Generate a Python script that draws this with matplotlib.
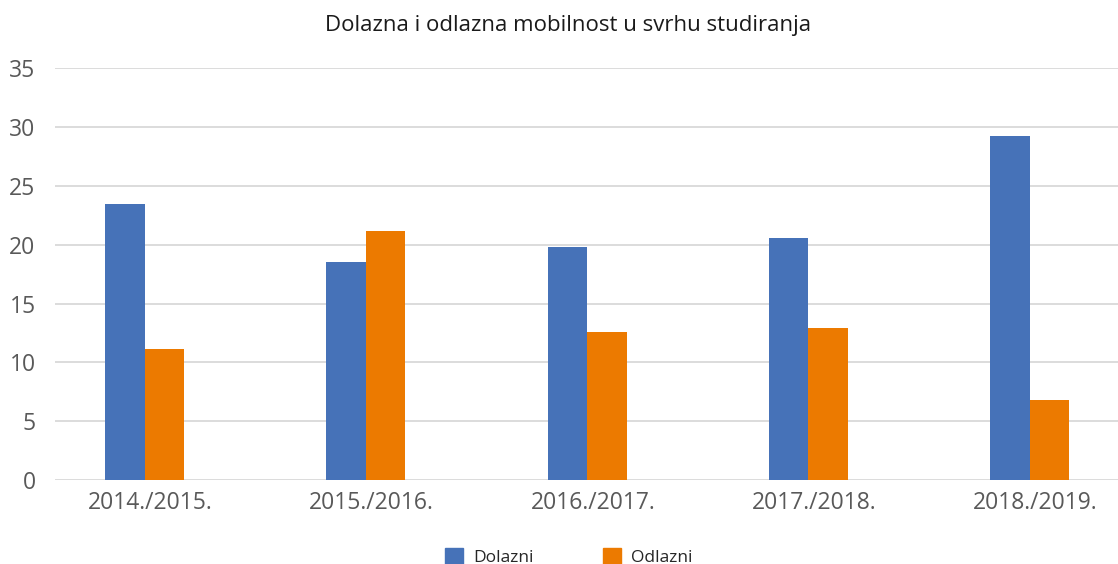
import matplotlib
matplotlib.use("Agg")
import matplotlib.pyplot as plt
from matplotlib.patches import Patch
import numpy as np

categories = ["2014./2015.", "2015./2016.", "2016./2017.", "2017./2018.", "2018./2019."]
dolazni = [23.5, 18.55, 19.8, 20.6, 29.25]
odlazni = [11.1, 21.15, 12.6, 12.9, 6.8]
yticks = [0, 5, 10, 15, 20, 25, 30, 35]

plt.rcParams['font.family'] = ['Open Sans', 'DejaVu Sans']

fig = plt.figure(figsize=(11.18, 5.64), dpi=100)
ax = fig.add_axes([55/1118, 84/564, (1118-55)/1118, (480-68.3)/564])

x = np.arange(len(categories))
w = 0.1785
blue = '#4672B8'
orange = '#EC7A00'
ax.bar(x - 0.116, dolazni, width=w, color=blue, zorder=3, label='Dolazni')
ax.bar(x - 0.116 + w, odlazni, width=w, color=orange, zorder=3, label='Odlazni')

ax.set_xlim(-0.4315, 4.372)
ax.set_ylim(0, 35)
ax.set_yticks(yticks)
ax.set_xticks(x)
ax.set_xticklabels(categories)
ax.grid(axis='y', color='#d9d9d9', linewidth=1.3, zorder=0)
for s in ax.spines.values():
    s.set_visible(False)
ax.tick_params(axis='both', length=0, colors='#595959', labelsize=16.5)
ax.tick_params(axis='y', pad=14)
ax.tick_params(axis='x', pad=8)

fig.text(568.5/1118, 1 - 25/564, "Dolazna i odlazna mobilnost u svrhu studiranja",
         ha='center', va='center', fontsize=16, color='#1a1a1a')

handles = [Patch(color=blue), Patch(color=orange)]
fig.legend(handles, ['Dolazni', 'Odlazni'], loc='center', bbox_to_anchor=(569/1118, 1 - 557/564),
           ncol=2, frameon=False, fontsize=12.5, handlelength=1.0, handleheight=1.0,
           columnspacing=4.0, handletextpad=0.6, labelcolor='#262626')

fig.savefig("out.png", dpi=100)
